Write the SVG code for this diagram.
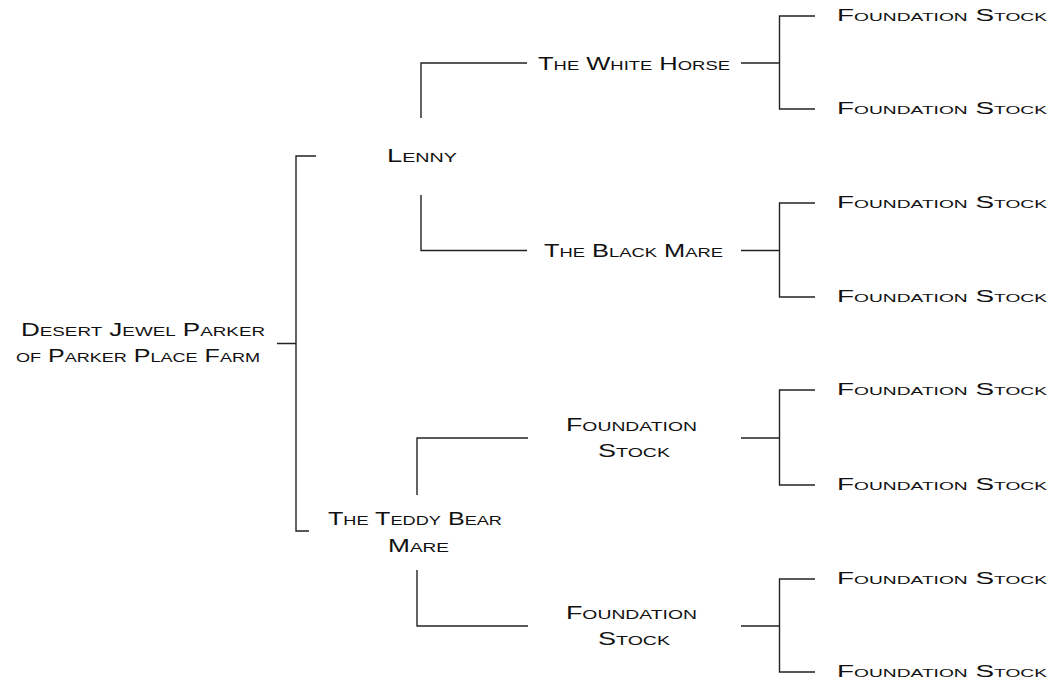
<svg xmlns="http://www.w3.org/2000/svg" width="1051" height="684" viewBox="0 0 1051 684">
<style>
text{font-family:"Liberation Sans",Arial,sans-serif;font-variant:small-caps;fill:#111;font-size:18px}
text.leaf{font-size:16px}
.conn path{fill:none;stroke:#222;stroke-width:1.4}
</style>
<rect width="1051" height="684" fill="#fff"/>
<g class="conn">
<path d="M277,343.5 H296 M316,156 H296 V531 H309"/>
<path d="M421,118 V63 H527 M741,63 H779.5 M815,16 H779.5 V109 H815"/>
<path d="M421,195 V250.5 H527 M741,250.5 H779.5 M815,203 H779.5 V297 H815"/>
<path d="M417,495 V438 H528 M741,438 H779.5 M815,390 H779.5 V485 H815"/>
<path d="M417,570 V626 H528 M741,626 H779.5 M815,579 H779.5 V672 H815"/>
</g>
<g id="root"><text x="21" y="336" textLength="244" lengthAdjust="spacingAndGlyphs">Desert Jewel Parker</text><text x="16" y="362" textLength="244" lengthAdjust="spacingAndGlyphs">of Parker Place Farm</text></g>
<g id="lenny"><text x="387" y="162" textLength="70" lengthAdjust="spacingAndGlyphs">Lenny</text></g>
<g id="teddy"><text x="328" y="525" textLength="174" lengthAdjust="spacingAndGlyphs">The Teddy Bear</text><text x="388" y="551.5" textLength="61" lengthAdjust="spacingAndGlyphs">Mare</text></g>
<g id="whitehorse"><text x="538" y="69.5" textLength="192" lengthAdjust="spacingAndGlyphs">The White Horse</text></g>
<g id="blackmare"><text x="544" y="257" textLength="179" lengthAdjust="spacingAndGlyphs">The Black Mare</text></g>
<g id="fs1"><text x="566" y="431" textLength="131" lengthAdjust="spacingAndGlyphs">Foundation</text><text x="598" y="457" textLength="72" lengthAdjust="spacingAndGlyphs">Stock</text></g>
<g id="fs2"><text x="566" y="619" textLength="131" lengthAdjust="spacingAndGlyphs">Foundation</text><text x="598" y="645" textLength="72" lengthAdjust="spacingAndGlyphs">Stock</text></g>
<g id="leaf1"><text class="leaf" x="837" y="20.5" textLength="210" lengthAdjust="spacingAndGlyphs">Foundation Stock</text></g>
<g id="leaf2"><text class="leaf" x="837" y="113.5" textLength="210" lengthAdjust="spacingAndGlyphs">Foundation Stock</text></g>
<g id="leaf3"><text class="leaf" x="837" y="207.5" textLength="210" lengthAdjust="spacingAndGlyphs">Foundation Stock</text></g>
<g id="leaf4"><text class="leaf" x="837" y="301.5" textLength="210" lengthAdjust="spacingAndGlyphs">Foundation Stock</text></g>
<g id="leaf5"><text class="leaf" x="837" y="394.5" textLength="210" lengthAdjust="spacingAndGlyphs">Foundation Stock</text></g>
<g id="leaf6"><text class="leaf" x="837" y="489.5" textLength="210" lengthAdjust="spacingAndGlyphs">Foundation Stock</text></g>
<g id="leaf7"><text class="leaf" x="837" y="583.5" textLength="210" lengthAdjust="spacingAndGlyphs">Foundation Stock</text></g>
<g id="leaf8"><text class="leaf" x="837" y="676.5" textLength="210" lengthAdjust="spacingAndGlyphs">Foundation Stock</text></g>
</svg>
